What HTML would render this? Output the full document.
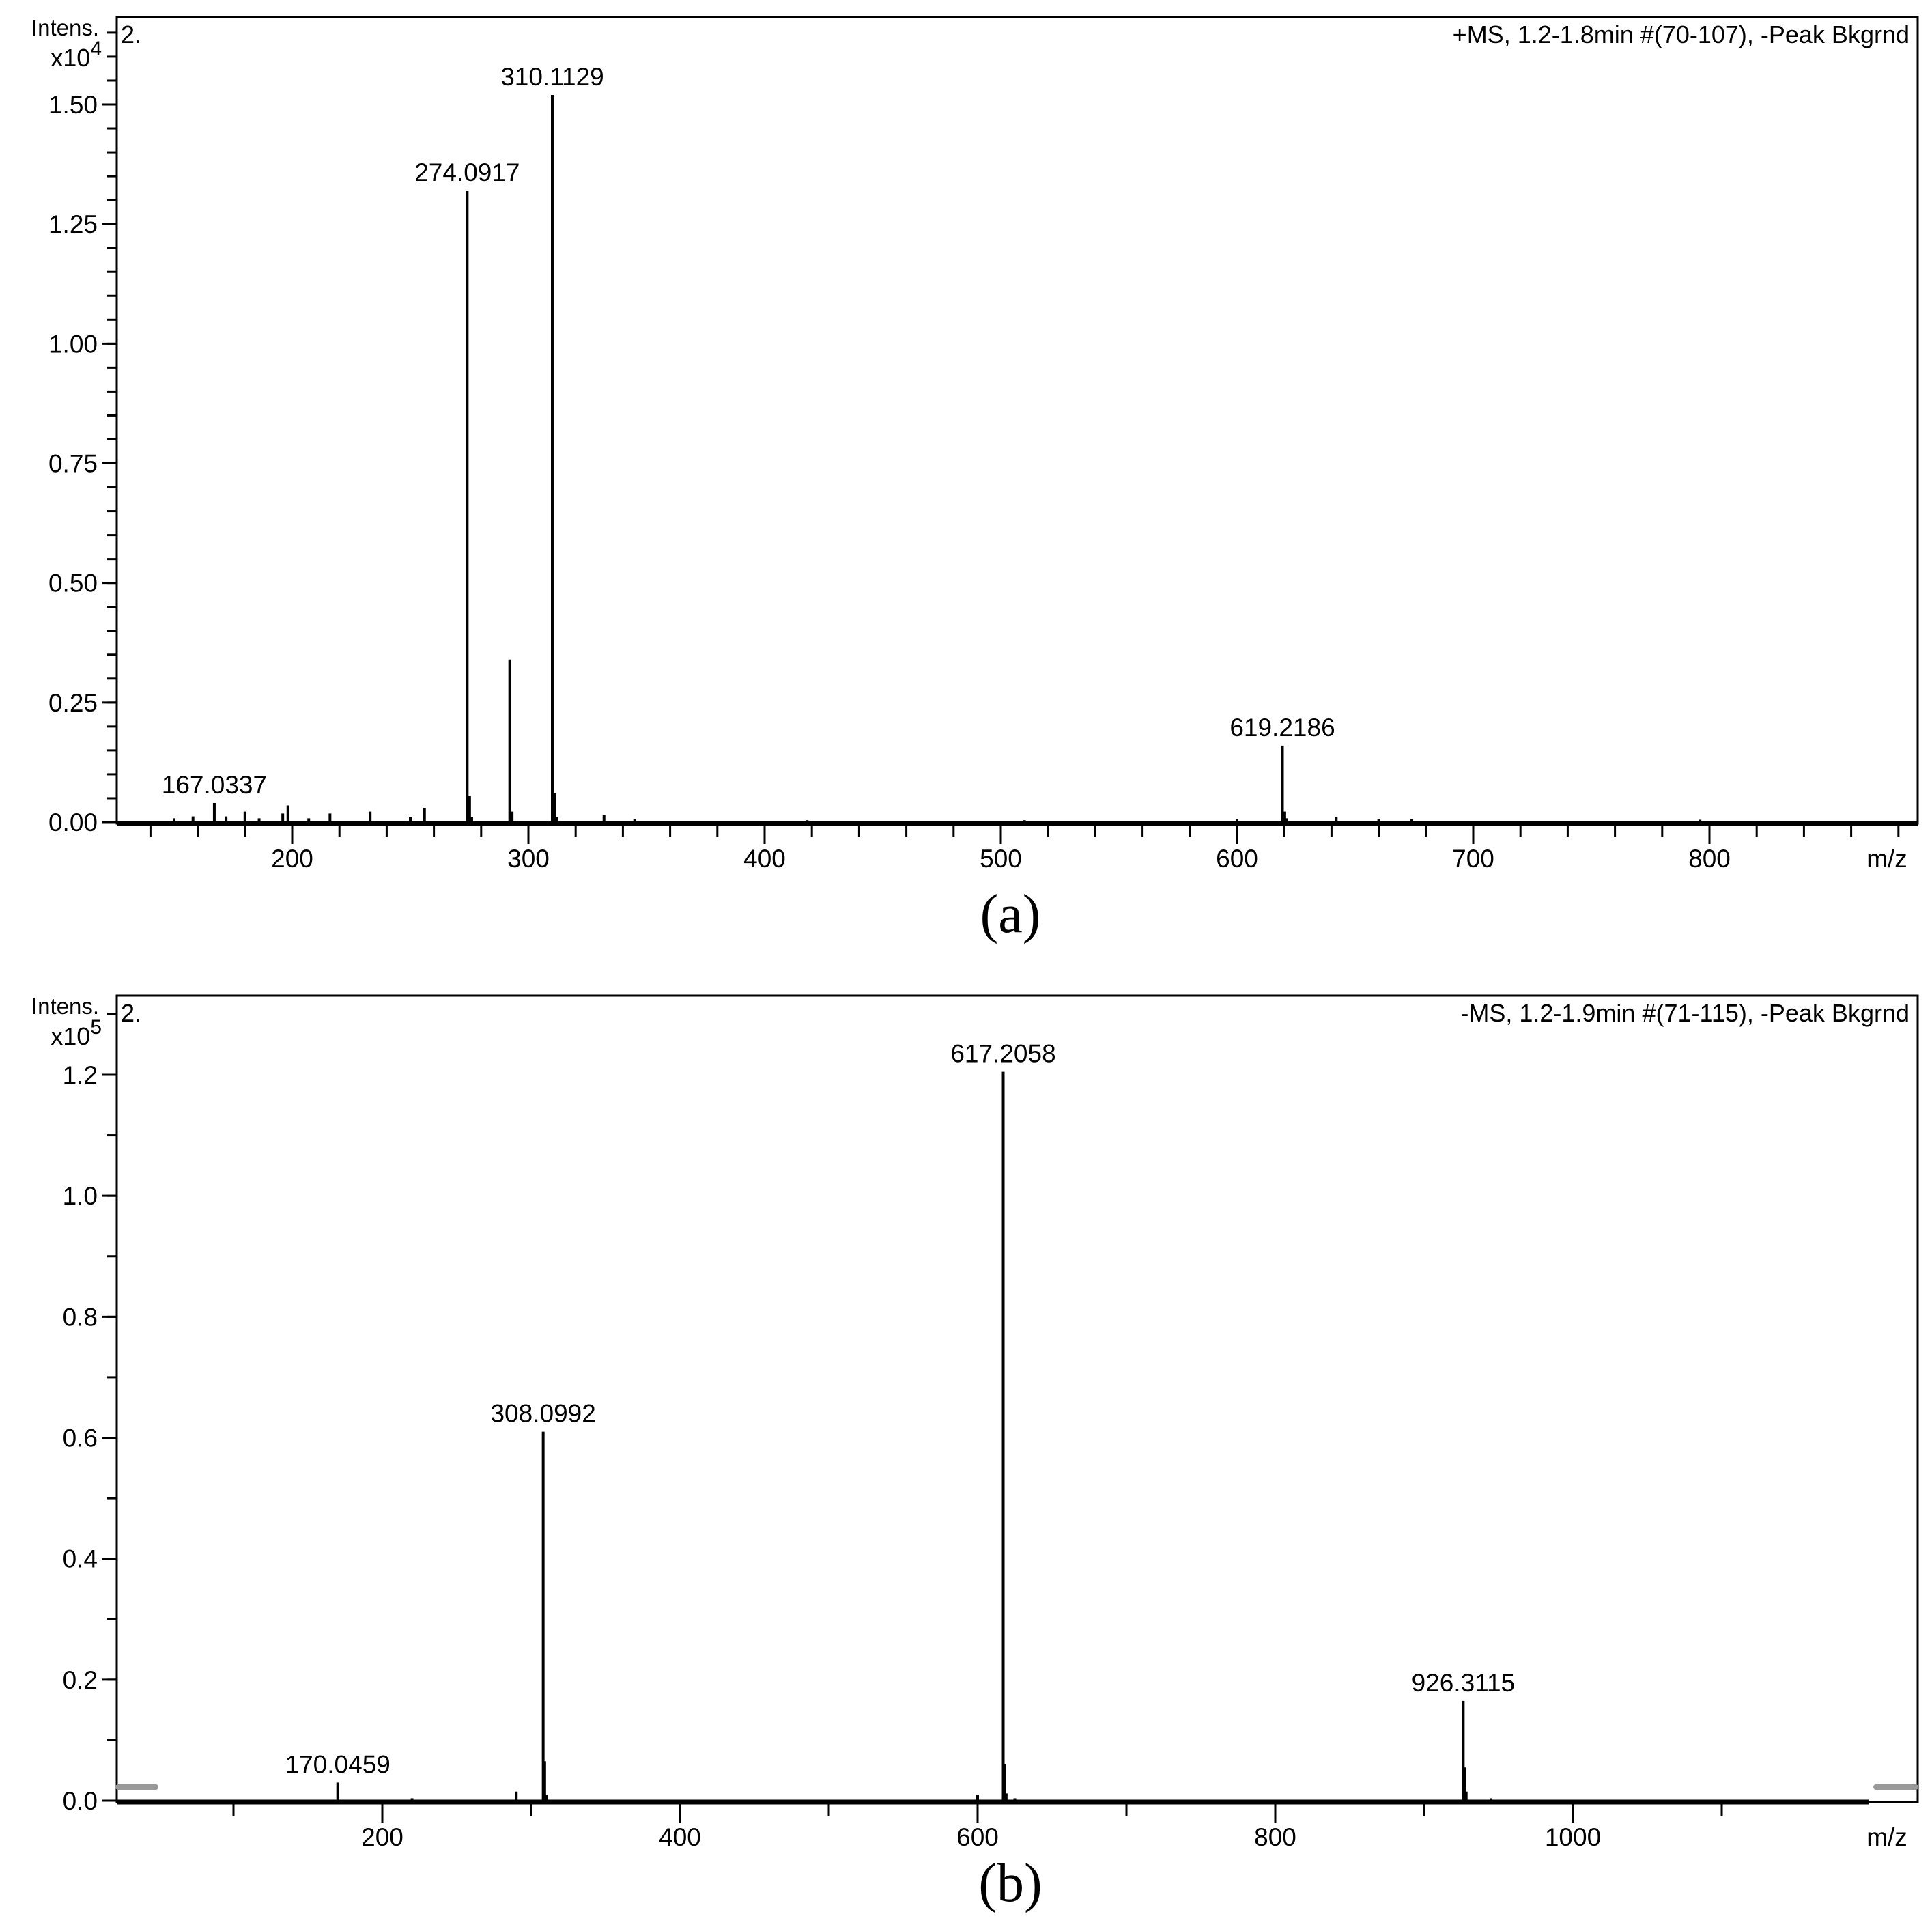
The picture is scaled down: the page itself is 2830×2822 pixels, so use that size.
<!DOCTYPE html>
<html><head><meta charset="utf-8">
<style>
html,body{margin:0;padding:0;background:#fff;}
svg{display:block;}
text{font-family:"Liberation Sans",sans-serif;fill:#000;}
.cap{font-family:"Liberation Serif",serif;}
</style></head>
<body>
<svg id="chart" width="2830" height="2822" viewBox="0 0 2830 2822" xmlns="http://www.w3.org/2000/svg">
<g id="pa"></g>
<g id="pb"></g>
<text class="cap" x="1480" y="1365" font-size="80" text-anchor="middle">(a)</text>
<text class="cap" x="1480" y="2784" font-size="80" text-anchor="middle">(b)</text>
</svg>
<script>
// Panel A data (x10^4)
const aMz = [150, 158, 167.0337, 172, 180, 186, 196, 198.2, 207, 216, 233, 250, 256, 274.0917, 275.1, 276, 292.1, 293.1, 310.1129, 311.1, 312, 332, 345, 418, 510, 600, 619.2186, 620.2, 621, 642, 660, 674, 796];
const aInt = [0.008, 0.012, 0.04, 0.012, 0.022, 0.008, 0.018, 0.035, 0.008, 0.018, 0.022, 0.01, 0.03, 1.32, 0.055, 0.01, 0.34, 0.022, 1.52, 0.06, 0.01, 0.015, 0.006, 0.004, 0.004, 0.006, 0.16, 0.022, 0.008, 0.01, 0.007, 0.006, 0.005];
const aLabelMz = [167.0337, 274.0917, 310.1129, 619.2186];
const aLabelInt = [0.04, 1.32, 1.52, 0.16];
const aLabels = ["167.0337", "274.0917", "310.1129", "619.2186"];
const aYTicks = [0, 0.25, 0.5, 0.75, 1.0, 1.25, 1.5];
const aYTickLabels = ["0.00", "0.25", "0.50", "0.75", "1.00", "1.25", "1.50"];
const aXTicks = [200, 300, 400, 500, 600, 700, 800];
// Panel B data (x10^5)
const bMz = [170.0459, 220, 290, 308.0992, 309.1, 310.1, 600, 617.2058, 618.2, 619.2, 625, 926.3115, 927.3, 928.3, 945];
const bInt = [0.03, 0.004, 0.015, 0.61, 0.065, 0.01, 0.01, 1.205, 0.06, 0.012, 0.004, 0.165, 0.055, 0.015, 0.004];
const bLabelMz = [170.0459, 308.0992, 617.2058, 926.3115];
const bLabelInt = [0.03, 0.61, 1.205, 0.165];
const bLabels = ["170.0459", "308.0992", "617.2058", "926.3115"];
const bYTicks = [0, 0.2, 0.4, 0.6, 0.8, 1.0, 1.2];
const bYTickLabels = ["0.0", "0.2", "0.4", "0.6", "0.8", "1.0", "1.2"];
const bXTicks = [200, 400, 600, 800, 1000];

const NS = "http://www.w3.org/2000/svg";
function mk(parent, tag, attrs, txt){
  const e = document.createElementNS(NS, tag);
  for (const k in attrs) e.setAttribute(k, attrs[k]);
  if (txt !== undefined) e.textContent = txt;
  parent.appendChild(e);
  return e;
}

function panel(g, cfg){
  const {L,R,T,B,axisEnd,x,y} = cfg;
  const frame = mk(g,'rect',{x:L,y:T,width:R-L,height:B-T,fill:'none',stroke:'#000','stroke-width':3});
  
  
  const ax = mk(g,'line',{x1:L,y1:B,x2:axisEnd,y2:B,stroke:'#000','stroke-width':7});
  
  
  for (let v = cfg.yMin0; v <= cfg.yMaxTick + 1e-9; v += cfg.yMinor){
    const yy = y(v);
    if (yy < T) break;
    const t = mk(g,'line',{x1:L-14,y1:yy,x2:L,y2:yy,stroke:'#000','stroke-width':3});
    
    
  }
  cfg.yTicks.forEach((v,i)=>{
    const yy = y(v);
    const t = mk(g,'line',{x1:L-22,y1:yy,x2:L,y2:yy,stroke:'#000','stroke-width':3});
    
    
    const l = mk(g,'text',{x:L-28,y:yy+13,'font-size':37,'text-anchor':'end'},cfg.yTickLabels[i]);
    
    
  });
  for (let v = cfg.xMinorStart; x(v) <= axisEnd + 1; v += cfg.xMinor){
    const xx = x(v);
    if (xx < L + 5) continue;
    const t = mk(g,'line',{x1:xx,y1:B,x2:xx,y2:B+20,stroke:'#000','stroke-width':3});
    
    
  }
  cfg.xTicks.forEach(v=>{
    const xx = x(v);
    const t = mk(g,'line',{x1:xx,y1:B,x2:xx,y2:B+30,stroke:'#000','stroke-width':3});
    
    
    const l = mk(g,'text',{x:xx,y:B+64,'font-size':37,'text-anchor':'middle'},String(v));
    
    
  });
  const mz = mk(g,'text',{x:cfg.mzX,y:B+64,'font-size':37,'text-anchor':'middle'},'m/z');
  
  
  const it = mk(g,'text',{x:L-26,y:T+27,'font-size':33,'text-anchor':'end'},'Intens.');
  
  
  const ex = mk(g,'text',{x:L-22,y:T+72,'font-size':36,'text-anchor':'end'},'x10');
  
  
  mk(ex,'tspan',{dy:-16,'font-size':30},cfg.exp);
  const c2 = mk(g,'text',{x:L+6,y:T+38,'font-size':36},'2.');
  
  
  const hd = mk(g,'text',{x:R-12,y:T+38,'font-size':36,'text-anchor':'end'},cfg.header);
  
  
  cfg.mz.forEach((m,i)=>{
    const xx = x(m);
    const p = mk(g,'line',{x1:xx,y1:B,x2:xx,y2:y(cfg.int[i]),stroke:'#000','stroke-width':4});
    
    
  });
  cfg.labelMz.forEach((m,i)=>{
    const l = mk(g,'text',{x:x(m),y:y(cfg.labelInt[i])-14,'font-size':37,'text-anchor':'middle'},cfg.labels[i]);
    
    
  });
}

const gA = document.getElementById('pa');
panel(gA,{L:171,R:2809,T:25,B:1206,axisEnd:2809,
  x:m=>428+(m-200)*3.46, y:v=>1204-v*(1051/1.5),
  yTicks:aYTicks,yTickLabels:aYTickLabels,yMin0:0,yMinor:0.05,yMaxTick:1.76,
  xTicks:aXTicks,xMinorStart:120,xMinor:20,mzX:2764,exp:'4',
  header:'+MS, 1.2-1.8min #(70-107), -Peak Bkgrnd',
  mz:aMz,int:aInt,labelMz:aLabelMz,labelInt:aLabelInt,labels:aLabels});

const gB = document.getElementById('pb');
panel(gB,{L:171,R:2809,T:1458,B:2639,axisEnd:2738,
  x:m=>560+(m-200)*(436/200), y:v=>2637-v*(1063/1.2),
  yTicks:bYTicks,yTickLabels:bYTickLabels,yMin0:0,yMinor:0.1,yMaxTick:1.3,
  xTicks:bXTicks,xMinorStart:100,xMinor:100,mzX:2764,exp:'5',
  header:'-MS, 1.2-1.9min #(71-115), -Peak Bkgrnd',
  mz:bMz,int:bInt,labelMz:bLabelMz,labelInt:bLabelInt,labels:bLabels});
const d1 = mk(gB,'line',{x1:173,y1:2617,x2:228,y2:2617,stroke:'#999','stroke-width':8,'stroke-linecap':'round'});


const d2 = mk(gB,'line',{x1:2748,y1:2617,x2:2806,y2:2617,stroke:'#999','stroke-width':8,'stroke-linecap':'round'});


</script>
</body></html>
